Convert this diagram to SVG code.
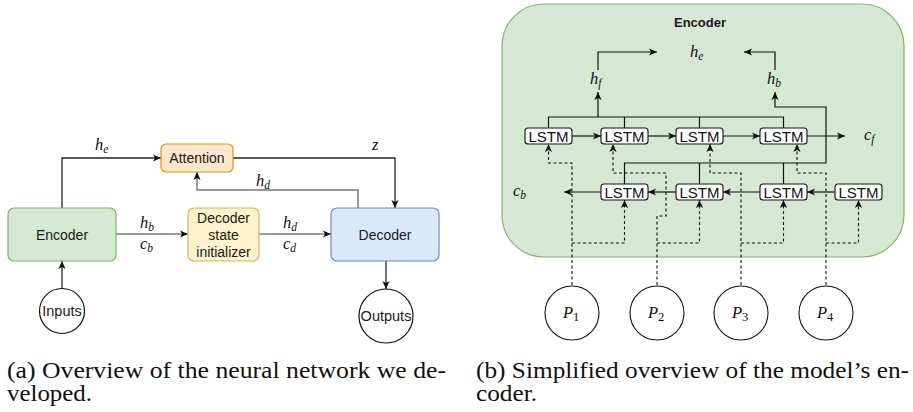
<svg xmlns="http://www.w3.org/2000/svg" width="913" height="412" viewBox="0 0 913 412">
<style>
.sans{font-family:"Liberation Sans",Arial,sans-serif;fill:#1a1a1a}
.m{font-family:"Liberation Serif","Times New Roman",serif;font-style:italic;font-size:16.5px;fill:#111}
.sub{font-size:11.5px}
.num{font-style:normal;font-size:12.5px}
.cap{font-family:"Liberation Serif","Times New Roman",serif;font-size:23px;fill:#111}
.ln{fill:none;stroke:#222;stroke-width:1.3}
.lg{fill:none;stroke:#7a7a7a;stroke-width:1.5}
.lr{fill:none;stroke:#111;stroke-width:1.2}
.ds{fill:none;stroke:#111;stroke-width:1.1;stroke-dasharray:3 2.5}
.lstm rect{fill:#fff;stroke:#111;stroke-width:1.1}
.lstm text{font-family:"Liberation Sans",Arial,sans-serif;font-size:15px;fill:#111;text-anchor:middle}
</style>
<defs>
<marker id="ar" viewBox="0 0 10 10" refX="10" refY="5" markerWidth="8" markerHeight="8" markerUnits="userSpaceOnUse" orient="auto">
<path d="M0,0.5 L10,5 L0,9.5 L2.5,5 z" fill="#111"/>
</marker>
</defs>

<!-- (a) overview -->
<g id="connectors-a">
<path class="ln" d="M62,208 V158 H161" marker-end="url(#ar)"/>
<path class="ln" d="M233,158 H395 V208" marker-end="url(#ar)" stroke="#444"/>
<path class="lg" d="M358,208 V190 H197 V172" marker-end="url(#ar)"/>
<path class="lg" d="M116,234 H188" marker-end="url(#ar)"/>
<path class="lg" d="M259,234 H331" marker-end="url(#ar)"/>
<path class="ln" d="M62,289 V261" marker-end="url(#ar)"/>
<path class="ln" d="M386,261 V289" marker-end="url(#ar)"/>
<text class="m" x="95" y="150">h<tspan class="sub" dy="3">e</tspan></text>
<text class="m" x="372" y="150">z</text>
<text class="m" x="256" y="186">h<tspan class="sub" dy="3">d</tspan></text>
<text class="m" x="140" y="228">h<tspan class="sub" dy="2.5">b</tspan></text>
<text class="m" x="140" y="249">c<tspan class="sub" dy="2.5">b</tspan></text>
<text class="m" x="283" y="228">h<tspan class="sub" dy="2.5">d</tspan></text>
<text class="m" x="283" y="249">c<tspan class="sub" dy="2.5">d</tspan></text>
</g>
<g id="encoder-a">
<rect x="8" y="208" width="108" height="53" rx="6" fill="#d5e8d4" stroke="#82b366" stroke-width="1.2"/>
<text class="sans" x="62" y="239.5" font-size="14" text-anchor="middle">Encoder</text>
</g>
<g id="attention">
<rect x="161" y="144" width="72" height="28" rx="5" fill="#ffe6cc" stroke="#d79b00" stroke-width="1.2"/>
<text class="sans" x="197" y="163" font-size="14" text-anchor="middle">Attention</text>
</g>
<g id="dsi">
<rect x="188" y="208" width="71" height="53" rx="6" fill="#fff2cc" stroke="#d6b656" stroke-width="1.2"/>
<text class="sans" x="223.5" y="223" font-size="14" text-anchor="middle">Decoder</text>
<text class="sans" x="223.5" y="240" font-size="14" text-anchor="middle">state</text>
<text class="sans" x="223.5" y="257" font-size="14" text-anchor="middle">initializer</text>
</g>
<g id="decoder">
<rect x="331" y="208" width="108" height="53" rx="6" fill="#dae8fc" stroke="#6c8ebf" stroke-width="1.2"/>
<text class="sans" x="385" y="239.5" font-size="14" text-anchor="middle">Decoder</text>
</g>
<g id="inputs">
<circle cx="62" cy="311" r="22.5" fill="#fff" stroke="#111" stroke-width="1.2"/>
<text class="sans" x="62" y="316" font-size="14.5" text-anchor="middle">Inputs</text>
</g>
<g id="outputs">
<circle cx="386" cy="316" r="27" fill="#fff" stroke="#111" stroke-width="1.2"/>
<text class="sans" x="386" y="321" font-size="14.5" text-anchor="middle">Outputs</text>
</g>

<!-- (b) encoder -->
<g id="encoder-b">
<rect x="502" y="4" width="402" height="253" rx="42" fill="#d5e8d4" stroke="#82b366" stroke-width="1.2"/>
<text class="sans" x="700" y="27" font-size="13" font-weight="bold" text-anchor="middle">Encoder</text>
</g>
<g id="connectors-b">
<path class="lr" d="M598,70 V52 H657" marker-end="url(#ar)"/>
<path class="lr" d="M775,70 V52 H744" marker-end="url(#ar)"/>
<path class="lr" d="M548.5,128 V117 H783.5 V128 M624.5,128 V117 M699.5,128 V117"/>
<path class="lr" d="M598,117 V92" marker-end="url(#ar)"/>
<path class="lr" d="M572,136 H601" marker-end="url(#ar)"/>
<path class="lr" d="M648,136 H676" marker-end="url(#ar)"/>
<path class="lr" d="M723,136 H760" marker-end="url(#ar)"/>
<path class="lr" d="M807,136 H845" marker-end="url(#ar)"/>
<path class="lr" d="M835,192 H807" marker-end="url(#ar)"/>
<path class="lr" d="M760,192 H723" marker-end="url(#ar)"/>
<path class="lr" d="M676,192 H648" marker-end="url(#ar)"/>
<path class="lr" d="M601,192 H564" marker-end="url(#ar)"/>
<path class="lr" d="M624.5,184 V163 H826 V107 H775 V92" marker-end="url(#ar)"/>
<path class="lr" d="M699.5,184 V163 M783.5,184 V163"/>
<path class="ds" d="M572,285 V163 H548.5 V144" marker-end="url(#ar)"/>
<path class="ds" d="M572,243 H624.5 V200" marker-end="url(#ar)"/>
<path class="ds" d="M657,285 V216 H666 V173 H613 V144" marker-end="url(#ar)"/>
<path class="ds" d="M657,243 H699.5 V200" marker-end="url(#ar)"/>
<path class="ds" d="M741,285 V173 H710 V144" marker-end="url(#ar)"/>
<path class="ds" d="M741,243 H783.5 V200" marker-end="url(#ar)"/>
<path class="ds" d="M826,285 V173 H797 V144" marker-end="url(#ar)"/>
<path class="ds" d="M826,243 H858.5 V200" marker-end="url(#ar)"/>
<text class="m" x="690" y="57">h<tspan class="sub" dy="3">e</tspan></text>
<text class="m" x="590" y="84">h<tspan class="sub" dy="3">f</tspan></text>
<text class="m" x="767" y="84">h<tspan class="sub" dy="3">b</tspan></text>
<text class="m" x="864" y="140">c<tspan class="sub" dy="3">f</tspan></text>
<text class="m" x="513" y="196">c<tspan class="sub" dy="3">b</tspan></text>
</g>
<g id="lstm-f1" class="lstm"><rect x="525" y="128" width="47" height="16" rx="3"/><text x="548.5" y="141.5">LSTM</text></g>
<g id="lstm-f2" class="lstm"><rect x="601" y="128" width="47" height="16" rx="3"/><text x="624.5" y="141.5">LSTM</text></g>
<g id="lstm-f3" class="lstm"><rect x="676" y="128" width="47" height="16" rx="3"/><text x="699.5" y="141.5">LSTM</text></g>
<g id="lstm-f4" class="lstm"><rect x="760" y="128" width="47" height="16" rx="3"/><text x="783.5" y="141.5">LSTM</text></g>
<g id="lstm-b1" class="lstm"><rect x="601" y="184" width="47" height="16" rx="3"/><text x="624.5" y="197.5">LSTM</text></g>
<g id="lstm-b2" class="lstm"><rect x="676" y="184" width="47" height="16" rx="3"/><text x="699.5" y="197.5">LSTM</text></g>
<g id="lstm-b3" class="lstm"><rect x="760" y="184" width="47" height="16" rx="3"/><text x="783.5" y="197.5">LSTM</text></g>
<g id="lstm-b4" class="lstm"><rect x="835" y="184" width="47" height="16" rx="3"/><text x="858.5" y="197.5">LSTM</text></g>
<g id="p1"><circle cx="572" cy="313" r="27" fill="#fff" stroke="#111" stroke-width="1.1"/><text class="m" x="563" y="318" font-size="18">P<tspan class="num" dy="3">1</tspan></text></g>
<g id="p2"><circle cx="657" cy="313" r="27" fill="#fff" stroke="#111" stroke-width="1.1"/><text class="m" x="648" y="318" font-size="18">P<tspan class="num" dy="3">2</tspan></text></g>
<g id="p3"><circle cx="741" cy="313" r="27" fill="#fff" stroke="#111" stroke-width="1.1"/><text class="m" x="732" y="318" font-size="18">P<tspan class="num" dy="3">3</tspan></text></g>
<g id="p4"><circle cx="826" cy="313" r="27" fill="#fff" stroke="#111" stroke-width="1.1"/><text class="m" x="817" y="318" font-size="18">P<tspan class="num" dy="3">4</tspan></text></g>

<g id="captions">
<text class="cap" x="7" y="378" textLength="439" lengthAdjust="spacingAndGlyphs">(a) Overview of the neural network we de-</text>
<text class="cap" x="7" y="401" textLength="85" lengthAdjust="spacingAndGlyphs">veloped.</text>
<text class="cap" x="476" y="378" textLength="433" lengthAdjust="spacingAndGlyphs">(b) Simplified overview of the model’s en-</text>
<text class="cap" x="476" y="401" textLength="61" lengthAdjust="spacingAndGlyphs">coder.</text>
</g>
</svg>
